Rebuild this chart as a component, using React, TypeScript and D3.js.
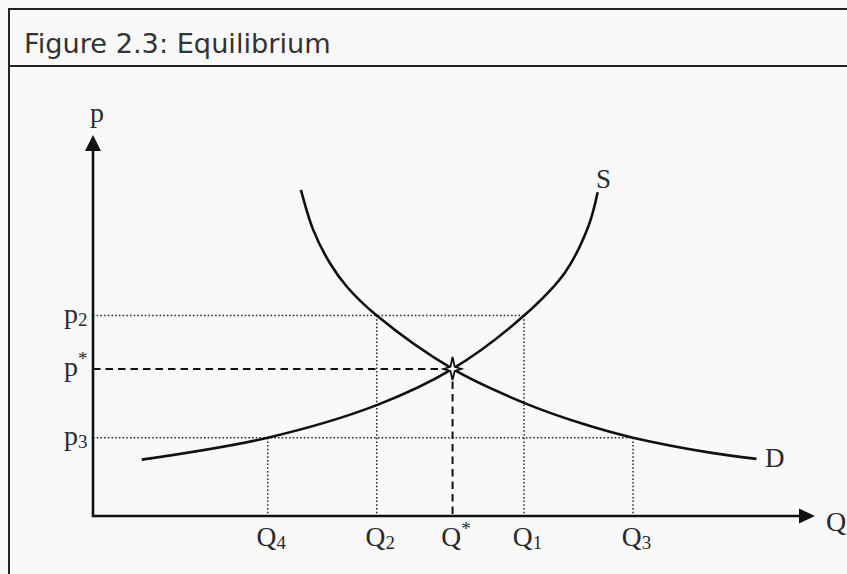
import React from "react";
import * as d3 from "d3";

// ---- data (model units) ----
const titleText = "Figure 2.3: Equilibrium";

const qSubs = ["4", "2", "*", "1", "3"];
const qValues = [24.2, 39.3, 49.8, 59.7, 74.8];

const pSubs = ["2", "*", "3"];
const pValues = [52.6, 38.6, 20.55];

const qStar = 49.8;
const pStar = 38.6;

const supplyQ = [6.75, 24.2, 39.3, 49.8, 59.7, 65.4, 68.6, 69.9];
const supplyP = [14.8, 20.55, 29.1, 38.6, 52.6, 64.0, 76.0, 85.0];

const demandQ = [28.8, 30.5, 32.8, 35.2, 39.3, 49.8, 59.7, 67.5, 74.8, 85.9, 91.9];
const demandP = [85.6, 75.1, 66.4, 60.1, 52.6, 38.6, 29.7, 24.4, 20.55, 16.5, 15.0];

const W = 847;
const H = 574;
const BG = "#f9f9f9";
const INK = "#111";
const TXT = "#2a2a2a";
const SERIF = "'Liberation Serif', 'Times New Roman', serif";

export default function App() {
  const x = d3.scaleLinear().domain([0, 100]).range([93, 815]);
  const y = d3.scaleLinear().domain([0, 100]).range([516, 135]);

  const line = d3
    .line<[number, number]>()
    .x((d) => x(d[0]))
    .y((d) => y(d[1]))
    .curve(d3.curveCatmullRom.alpha(0.5));

  const supply: [number, number][] = supplyQ.map((q, i) => [q, supplyP[i]]);
  const demand: [number, number][] = demandQ.map((q, i) => [q, demandP[i]]);

  const [p2, , p3] = pValues;
  const [q4, q2, , q1, q3] = qValues;

  const dotted = { stroke: "#222", strokeWidth: 1.5, strokeDasharray: "1.5 2.2", fill: "none" };
  const dashed = { stroke: INK, strokeWidth: 2, strokeDasharray: "7.5 5", fill: "none" };

  // star at equilibrium
  const cx = x(qStar);
  const cy = y(pStar);
  const starPts: [number, number][] = [];
  const outer = [9, 11, 9, 12];
  for (let k = 0; k < 8; k++) {
    const a = (k * Math.PI) / 4;
    const r = k % 2 === 0 ? outer[k / 2] : 3;
    starPts.push([cx + r * Math.cos(a), cy + r * Math.sin(a)]);
  }
  const starPath = "M" + starPts.map((p) => p.join(",")).join("L") + "Z";

  const x0 = x(0);
  const y0 = y(0);
  const xEnd = x(100);
  const yEnd = y(100);

  return (
    <div style={{ position: "fixed", left: 0, top: 0, width: W, height: H, background: BG }}>
      <svg width={W} height={H} style={{ display: "block" }}>
        <rect x={0} y={0} width={W} height={H} fill={BG} />
        {/* frame */}
        <path d={`M9,${H + 5}V9H${W + 5}`} fill="none" stroke="#222" strokeWidth={2} />
        <line x1={9} x2={W + 5} y1={66} y2={66} stroke="#222" strokeWidth={2} />
        <text x={24} y={52.5} fontFamily="'DejaVu Sans', Verdana, sans-serif" fontSize={27.2} fill="#333">
          {titleText}
        </text>

        {/* guide lines */}
        <line x1={x0} x2={x(q1)} y1={y(p2)} y2={y(p2)} style={dotted} />
        <line x1={x0} x2={x(q3)} y1={y(p3)} y2={y(p3)} style={dotted} />
        <line x1={x(q2)} x2={x(q2)} y1={y(p2)} y2={y0} style={dotted} />
        <line x1={x(q1)} x2={x(q1)} y1={y(p2)} y2={y0} style={dotted} />
        <line x1={x(q4)} x2={x(q4)} y1={y(p3)} y2={y0} style={dotted} />
        <line x1={x(q3)} x2={x(q3)} y1={y(p3)} y2={y0} style={dotted} />
        <line x1={x0} x2={cx} y1={cy} y2={cy} style={dashed} />
        <line x1={cx} x2={cx} y1={cy} y2={y0} style={dashed} />

        {/* curves */}
        <path d={line(supply) || ""} fill="none" stroke={INK} strokeWidth={2.6} />
        <path d={line(demand) || ""} fill="none" stroke={INK} strokeWidth={2.6} />

        <path d={starPath} fill="#fff" stroke={INK} strokeWidth={1.8} strokeLinejoin="miter" />

        {/* axes */}
        <line x1={x0} x2={x0} y1={y0 + 1} y2={yEnd + 14} stroke={INK} strokeWidth={2.6} />
        <line x1={x0 - 1} x2={xEnd - 14} y1={y0} y2={y0} stroke={INK} strokeWidth={2.6} />
        <path d={`M${x0},${yEnd}L${x0 - 8},${yEnd + 16}L${x0 + 8},${yEnd + 16}Z`} fill={INK} />
        <path d={`M${xEnd},${y0}L${xEnd - 16},${y0 - 7.5}L${xEnd - 16},${y0 + 7.5}Z`} fill={INK} />

        {/* axis titles */}
        <text x={x0 + 4} y={yEnd - 13} textAnchor="middle" fontFamily={SERIF} fontSize={28} fill={TXT}>
          p
        </text>
        <text x={xEnd + 11} y={y0 + 15} fontFamily={SERIF} fontSize={28} fill={TXT}>
          Q
        </text>

        {/* curve labels */}
        <text x={596} y={188} fontFamily={SERIF} fontSize={27} fill={TXT}>
          S
        </text>
        <text x={765} y={467} fontFamily={SERIF} fontSize={27} fill={TXT}>
          D
        </text>

        {/* p labels */}
        {pValues.map((p, i) => (
          <text key={"p" + i} x={64} y={y(p) + 7} fontFamily={SERIF} fontSize={28} fill={TXT}>
            p
            <tspan fontSize={19} dy={pSubs[i] === "*" ? -11 : 3}>
              {pSubs[i]}
            </tspan>
          </text>
        ))}

        {/* Q labels */}
        {qValues.map((q, i) => (
          <text
            key={"q" + i}
            x={x(q) + 3.5}
            y={545.5}
            textAnchor="middle"
            fontFamily={SERIF}
            fontSize={27.5}
            fill={TXT}
          >
            Q
            <tspan fontSize={19} dy={qSubs[i] === "*" ? -11 : 3}>
              {qSubs[i]}
            </tspan>
          </text>
        ))}
      </svg>
    </div>
  );
}
